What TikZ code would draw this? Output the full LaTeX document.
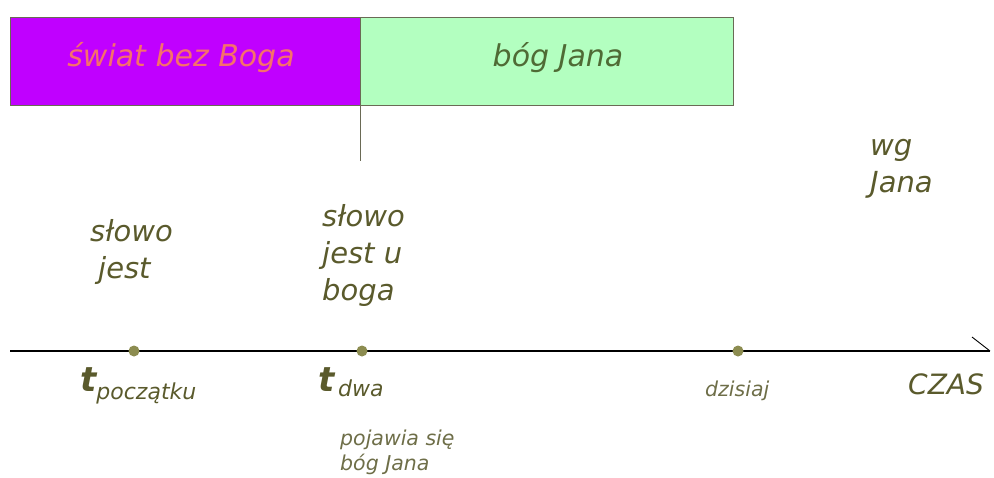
\documentclass[tikz,border=0pt]{standalone}
\usepackage{fontspec}
\setmainfont{DejaVu Sans}
\definecolor{purp}{HTML}{C000FF}
\definecolor{mint}{HTML}{B3FFC0}
\definecolor{salmon}{HTML}{F7706A}
\definecolor{gtxt}{HTML}{4F6B35}
\definecolor{otxt}{HTML}{5A5A2C}
\definecolor{ltxt}{HTML}{6E6E48}
\definecolor{dotc}{HTML}{8C8C50}
\definecolor{edge}{HTML}{6A6A55}
\tikzset{
  lbl/.style={font=\fontsize{29}{37}\selectfont\itshape, text=otxt, align=left, inner sep=0pt},
  small/.style={font=\fontsize{20.5}{25}\selectfont\itshape, text=ltxt, align=left, inner sep=0pt},
  dotm/.style={circle, fill=dotc, inner sep=0pt, minimum size=11pt},
}
\begin{document}
\begin{tikzpicture}[x=1pt,y=-1pt]
\useasboundingbox (0,0) rectangle (994,477);
% boxes
\draw[edge, fill=purp, line width=0.8pt] (10,17) rectangle (360,105);
\draw[edge, fill=mint, line width=0.8pt] (360,17) rectangle (733,105);
\node[font=\fontsize{30}{30}\selectfont\itshape, text=salmon, inner sep=0pt] (swiat) at (181,58) {świat bez Boga};
\node[font=\fontsize{30}{30}\selectfont\itshape, text=gtxt, inner sep=0pt] (bog) at (558,58) {bóg Jana};
\coordinate (v1) at (360,105);
\coordinate (v2) at (360,161);
\draw[edge, line width=0.8pt] (v1) -- (v2);
% timeline
\coordinate (a) at (10,351);
\coordinate (b) at (990,351);
\coordinate (bt) at (972,337);
\draw[black, line width=1.6pt] (a) -- (b);
\draw[black, line width=0.9pt] (bt) -- (b);
\node[dotm] (d1) at (134,351) {};
\node[dotm] (d2) at (362,351) {};
\node[dotm] (d3) at (738,351) {};
% labels
\node[lbl, anchor=west] (l1) at (90,252) {słowo\\\hspace*{8pt}jest};
\node[lbl, anchor=west] (l2) at (322,255) {słowo\\jest u\\boga};
\node[lbl, anchor=west] (l3) at (870,169) {wg\\Jana};
\node[inner sep=0pt, anchor=base west, text=otxt] (t1) at (80,391) {\fontsize{34}{34}\selectfont\itshape\bfseries t\fontsize{22}{24}\selectfont\mdseries\raisebox{-8pt}{początku}};
\node[inner sep=0pt, anchor=base west, text=otxt] (t2) at (318,391) {\fontsize{34}{34}\selectfont\itshape\bfseries t\fontsize{22}{24}\selectfont\mdseries\,\raisebox{-5pt}{dwa}};
\node[small, anchor=west] (dz) at (705,391) {dzisiaj};
\node[font=\fontsize{28}{30}\selectfont\itshape, text=otxt, inner sep=0pt, anchor=west] (czas) at (908,384) {CZAS};
\node[small, anchor=west] (poj) at (340,452) {pojawia się\\bóg Jana};
\end{tikzpicture}
\end{document}
